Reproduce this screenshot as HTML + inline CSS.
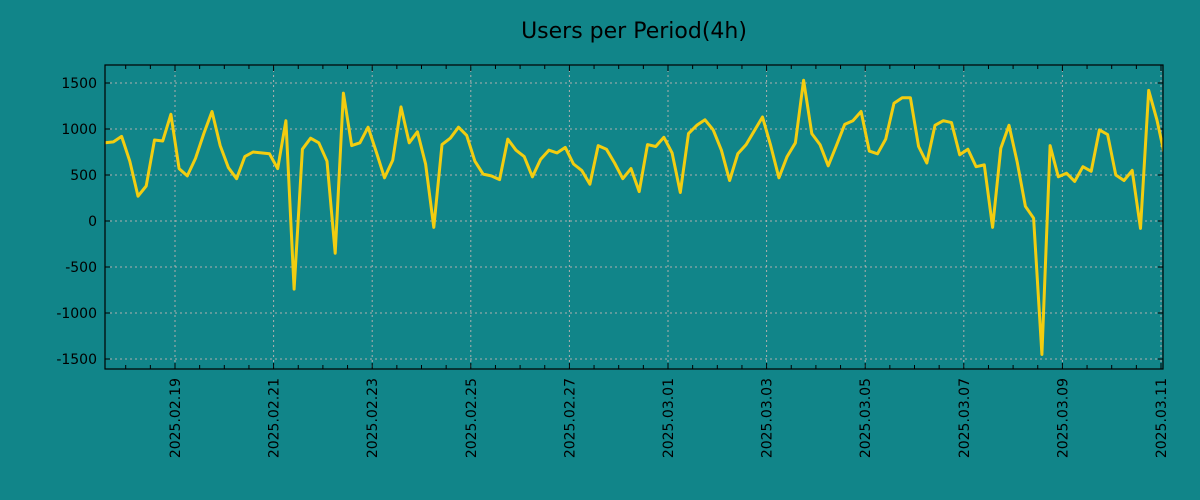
<!DOCTYPE html>
<html><head><meta charset="utf-8"><style>
html,body{margin:0;padding:0;background:#118589;}
svg{display:block;font-family:"DejaVu Sans","Liberation Sans",sans-serif;}
</style></head><body>
<svg id="chart" width="1200" height="500">
<rect width="1200" height="500" fill="#118589"/>
<text x="634" y="38" font-size="22" text-anchor="middle" fill="#000">Users per Period(4h)</text>
<g id="grid"></g><g id="axes"></g><g id="series"></g>
<rect x="105" y="65" width="1058" height="304" fill="none" stroke="#000" stroke-width="1.2"/>
</svg>
<script>
const startHour = -34; // hours relative to 2025.02.19 00:00
const stepHours = 4;
const values = [850,860,920,650,270,380,880,870,1160,570,490,680,950,1190,820,580,460,700,750,740,730,570,1090,-740,780,900,850,650,-350,1390,820,850,1020,750,470,660,1240,850,970,620,-70,830,900,1020,930,650,510,490,450,890,770,700,480,670,770,740,800,620,550,400,820,780,630,460,570,320,830,810,910,740,310,950,1040,1100,990,770,440,730,830,980,1130,820,470,700,850,1530,950,830,600,820,1050,1090,1190,760,730,890,1280,1340,1340,810,630,1040,1090,1070,720,780,590,610,-70,790,1040,640,160,30,-1450,820,480,520,430,590,540,990,940,500,440,550,-80,1420,1100,690];
const yTicks = [-1500,-1000,-500,0,500,1000,1500];
const xTickLabels = ["2025.02.19","2025.02.21","2025.02.23","2025.02.25","2025.02.27","2025.03.01","2025.03.03","2025.03.05","2025.03.07","2025.03.09","2025.03.11"];
const xTickDays = [0,2,4,6,8,10,12,14,16,18,20];

const L=105,R=1163,T=65,B=369;
const xScale = d => 175 + d*49.3;          // d in days from 02.19
const yScale = v => 221 - v*0.092;
const NS="http://www.w3.org/2000/svg";
const grid=document.getElementById('grid'), axes=document.getElementById('axes'), series=document.getElementById('series');
function mk(tag,attrs,parent){const e=document.createElementNS(NS,tag);for(const k in attrs)e.setAttribute(k,attrs[k]);parent.appendChild(e);return e;}

yTicks.forEach(v=>{
  const y=yScale(v);
  const g=mk('line',{x1:L,x2:R,y1:y,y2:y,stroke:'#b0b0b0','stroke-width':1,'stroke-dasharray':'2,3'},grid);
  
  
  const t=mk('line',{x1:L,x2:L+5,y1:y,y2:y,stroke:'#000'},axes);
  
  
  const t2=mk('line',{x1:R-5,x2:R,y1:y,y2:y,stroke:'#000'},axes);
  
  
  const lb=mk('text',{x:97,y:y+5,'font-size':14,'text-anchor':'end',fill:'#000'},axes);
  lb.textContent=v;
  
  
});
for(let d=-1.5; d<=20.5; d+=0.5){
  const x=xScale(d); if(x<L||x>R) continue;
  const major = xTickDays.includes(d);
  const m=mk('line',{x1:x,x2:x,y1:B,y2:B-(major?6:4),stroke:'#000'},axes);
  
  
  const m2=mk('line',{x1:x,x2:x,y1:T,y2:T+(major?6:4),stroke:'#000'},axes);
  
  
}
xTickDays.forEach((d,i)=>{
  const x=xScale(d);
  const g=mk('line',{x1:x,x2:x,y1:T,y2:B,stroke:'#b0b0b0','stroke-width':1,'stroke-dasharray':'2,3'},grid);
  
  
  const lb=mk('text',{x:0,y:0,'font-size':14,'text-anchor':'end',fill:'#000',transform:`translate(${x+5},378) rotate(-90)`},axes);
  lb.textContent=xTickLabels[i];
  
  
});
const cp=mk('clipPath',{id:'clip'},series);
mk('rect',{x:L,y:T,width:R-L,height:B-T},cp);
const pts=values.map((v,i)=>xScale((startHour+i*stepHours)/24).toFixed(1)+','+yScale(v).toFixed(1)).join(' ');
const pl=mk('polyline',{points:pts,fill:'none',stroke:'#f2cd10','stroke-width':3,'stroke-linejoin':'round','clip-path':'url(#clip)'},series);


</script>
</body></html>
